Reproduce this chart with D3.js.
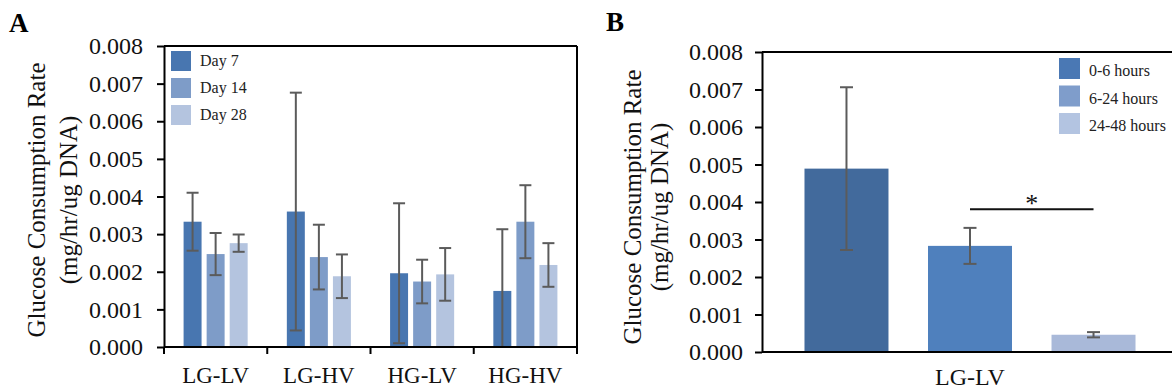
<!DOCTYPE html>
<html>
<head>
<meta charset="utf-8">
<script src="https://cdn.jsdelivr.net/npm/d3@7"></script>
<style>
  body { margin: 0; background: #fff; }
  svg { display: block; font-family: "Liberation Serif", "Times New Roman", serif; }
</style>
</head>
<body>
<div id="chart"></div>
<script>
// ---- DATA (panel A) ----
const groupsA = ["LG-LV", "LG-HV", "HG-LV", "HG-HV"];
const seriesA = ["Day 7", "Day 14", "Day 28"];
const day7Mean  = [0.00333, 0.00360, 0.00196, 0.00149];
const day7Err   = [0.00077, 0.00316, 0.00186, 0.00164];
const day14Mean = [0.00247, 0.00239, 0.00174, 0.00333];
const day14Err  = [0.00056, 0.00086, 0.00058, 0.00097];
const day28Mean = [0.00276, 0.00188, 0.00193, 0.00218];
const day28Err  = [0.00023, 0.00058, 0.00070, 0.00058];
const colorsA = ["#4876b0", "#7e9cc8", "#b4c4df"];

// ---- DATA (panel B) ----
const groupsB = ["LG-LV"];
const seriesB = ["0-6 hours", "6-24 hours", "24-48 hours"];
const meansB = [0.00489, 0.00283, 0.00046];
const errsB  = [0.00217, 0.00048, 0.00007];
const barColorsB = ["#426a9c", "#4f80bd", "#a9b9d9"];
const legendColorsB = ["#4a78b4", "#7f9dcb", "#b3c4e1"];
const sigPair = ["6-24 hours", "24-48 hours"];
const sigLevel = 0.00381;

const yTicks = [0, 0.001, 0.002, 0.003, 0.004, 0.005, 0.006, 0.007, 0.008];

const W = 1172, H = 391;
const svg = d3.select("#chart").append("svg")
  .attr("width", W).attr("height", H);

const errColor = "#5b5b5b";

function yAxis(g, y, x0, pad) {
  const ax = g.append("g")
    .attr("transform", `translate(${x0},0)`)
    .call(d3.axisLeft(y).tickValues(yTicks).tickFormat(d3.format(".3f"))
      .tickSize(7).tickSizeOuter(0).tickPadding(pad));
  ax.selectAll("path, line").attr("stroke", "#000").attr("stroke-width", 2);
  ax.selectAll("text").attr("font-size", 24).attr("fill", "#111")
    .attr("font-family", "Liberation Serif");
  return ax;
}

function errorBar(g, cx, y, mean, err, cap) {
  const lo = Math.max(0, mean - err), hi = mean + err;
  g.append("line").attr("x1", cx).attr("x2", cx)
    .attr("y1", y(lo)).attr("y2", y(hi))
    .attr("stroke", errColor).attr("stroke-width", 2);
  [hi, lo].forEach((v, i) => {
    if (i === 1 && mean - err < 0) return;
    g.append("line").attr("x1", cx - cap / 2).attr("x2", cx + cap / 2)
      .attr("y1", y(v)).attr("y2", y(v))
      .attr("stroke", errColor).attr("stroke-width", 2);
  });
}

// ================= PANEL A =================
{
  const left = 164, right = 577, top = 46, bottom = 347;
  const g = svg.append("g");

  const x0 = d3.scaleBand().domain(groupsA).range([left, right]).padding(0);
  const x1 = d3.scaleBand().domain(seriesA).range([0, x0.bandwidth()])
    .paddingInner(0.22).paddingOuter(0.85);
  const y = d3.scaleLinear().domain([0, 0.008]).range([bottom, top]);

  const means = [day7Mean, day14Mean, day28Mean];
  const errs = [day7Err, day14Err, day28Err];

  const rows = [];
  groupsA.forEach((grp, i) => seriesA.forEach((s, j) => {
    rows.push({ grp, s, j, mean: means[j][i], err: errs[j][i] });
  }));

  // ---- BARS ----
  g.selectAll("rect.barA").data(rows).enter().append("rect")
    .attr("class", "barA")
    .attr("x", d => x0(d.grp) + x1(d.s))
    .attr("y", d => y(d.mean))
    .attr("width", x1.bandwidth())
    .attr("height", d => y(0) - y(d.mean))
    .attr("fill", d => colorsA[d.j]);

  // ---- ERROR BARS ----
  rows.forEach(d => errorBar(g, x0(d.grp) + x1(d.s) + x1.bandwidth() / 2, y, d.mean, d.err, 12));

  // ---- FRAME ----
  g.append("line").attr("x1", left).attr("x2", right).attr("y1", top).attr("y2", top)
    .attr("stroke", "#000").attr("stroke-width", 2);
  g.append("line").attr("x1", right).attr("x2", right).attr("y1", top).attr("y2", bottom)
    .attr("stroke", "#000").attr("stroke-width", 2);

  // ---- AXES ----
  const xb = g.append("g").attr("transform", `translate(0,${bottom})`);
  xb.append("line").attr("x1", left).attr("x2", right)
    .attr("stroke", "#000").attr("stroke-width", 2);
  const seps = groupsA.map(d => x0(d)).concat([right]);
  xb.selectAll("line.sep").data(seps).enter().append("line")
    .attr("class", "sep")
    .attr("x1", d => d).attr("x2", d => d).attr("y1", 0).attr("y2", 7)
    .attr("stroke", "#000").attr("stroke-width", 2);
  xb.selectAll("text").data(groupsA).enter().append("text")
    .attr("x", d => x0(d) + x0.bandwidth() / 2)
    .attr("y", 36)
    .attr("text-anchor", "middle")
    .attr("font-size", 23).attr("fill", "#111")
    .text(d => d);

  yAxis(g, y, left, 14);

  // ---- Y LABEL ----
  const yl = g.append("text").attr("transform", "translate(45,200) rotate(-90)")
    .attr("text-anchor", "middle").attr("font-size", 25).attr("fill", "#111");
  yl.append("tspan").attr("x", 0).attr("dy", 0).text("Glucose Consumption Rate");
  yl.append("tspan").attr("x", 0).attr("dy", 32).text("(mg/hr/ug DNA)");

  // ---- LEGEND ----
  const lg = g.append("g");
  seriesA.forEach((s, i) => {
    lg.append("rect").attr("x", 171).attr("y", 51 + i * 27)
      .attr("width", 20).attr("height", 20).attr("fill", colorsA[i]);
    lg.append("text").attr("x", 200).attr("y", 66 + i * 27)
      .attr("font-size", 16).attr("fill", "#222").text(s);
  });

  svg.append("text").attr("x", 9).attr("y", 32)
    .attr("font-size", 27).attr("font-weight", "bold").text("A");
}

// ================= PANEL B =================
{
  const left = 762, right = 1178, top = 52, bottom = 352;
  const g = svg.append("g");

  const x0 = d3.scaleBand().domain(groupsB).range([left, right]).padding(0);
  const x1 = d3.scaleBand().domain(seriesB).range([0, x0.bandwidth()])
    .paddingInner(0.32).paddingOuter(0.344);
  const y = d3.scaleLinear().domain([0, 0.008]).range([bottom, top]);

  const rows = seriesB.map((s, j) => ({ s, j, mean: meansB[j], err: errsB[j] }));

  // ---- BARS ----
  g.selectAll("rect.barB").data(rows).enter().append("rect")
    .attr("class", "barB")
    .attr("x", d => x0(groupsB[0]) + x1(d.s))
    .attr("y", d => y(d.mean))
    .attr("width", x1.bandwidth())
    .attr("height", d => y(0) - y(d.mean))
    .attr("fill", d => barColorsB[d.j]);

  rows.forEach(d => errorBar(g, x0(groupsB[0]) + x1(d.s) + x1.bandwidth() / 2, y, d.mean, d.err, 13));

  // ---- FRAME ----
  g.append("line").attr("x1", left).attr("x2", W).attr("y1", top).attr("y2", top)
    .attr("stroke", "#000").attr("stroke-width", 2);
  g.append("line").attr("x1", left).attr("x2", W).attr("y1", bottom).attr("y2", bottom)
    .attr("stroke", "#000").attr("stroke-width", 2);

  yAxis(g, y, left, 12);

  g.append("text")
    .attr("x", x0(groupsB[0]) + x0.bandwidth() / 2).attr("y", bottom + 33)
    .attr("text-anchor", "middle").attr("font-size", 24).attr("fill", "#111")
    .text(groupsB[0]);

  // ---- SIGNIFICANCE ----
  const sx1 = x0(groupsB[0]) + x1(sigPair[0]) + x1.bandwidth() / 2;
  const sx2 = x0(groupsB[0]) + x1(sigPair[1]) + x1.bandwidth() / 2;
  g.append("line").attr("x1", sx1).attr("x2", sx2)
    .attr("y1", y(sigLevel)).attr("y2", y(sigLevel))
    .attr("stroke", "#111").attr("stroke-width", 2);
  g.append("text").attr("x", (sx1 + sx2) / 2).attr("y", y(sigLevel) + 3)
    .attr("text-anchor", "middle").attr("font-size", 26).attr("fill", "#111").text("*");

  // ---- Y LABEL ----
  const yl = g.append("text").attr("transform", "translate(641,207) rotate(-90)")
    .attr("text-anchor", "middle").attr("font-size", 25).attr("fill", "#111");
  yl.append("tspan").attr("x", 0).attr("dy", 0).text("Glucose Consumption Rate");
  yl.append("tspan").attr("x", 0).attr("dy", 27).text("(mg/hr/ug DNA)");

  // ---- LEGEND ----
  seriesB.forEach((s, i) => {
    g.append("rect").attr("x", 1059).attr("y", 58 + i * 27.5)
      .attr("width", 21).attr("height", 21).attr("fill", legendColorsB[i]);
    g.append("text").attr("x", 1089).attr("y", 76 + i * 27.5)
      .attr("font-size", 16).attr("fill", "#222").text(s);
  });

  svg.append("text").attr("x", 606).attr("y", 31)
    .attr("font-size", 27).attr("font-weight", "bold").text("B");
}
</script>
</body>
</html>
